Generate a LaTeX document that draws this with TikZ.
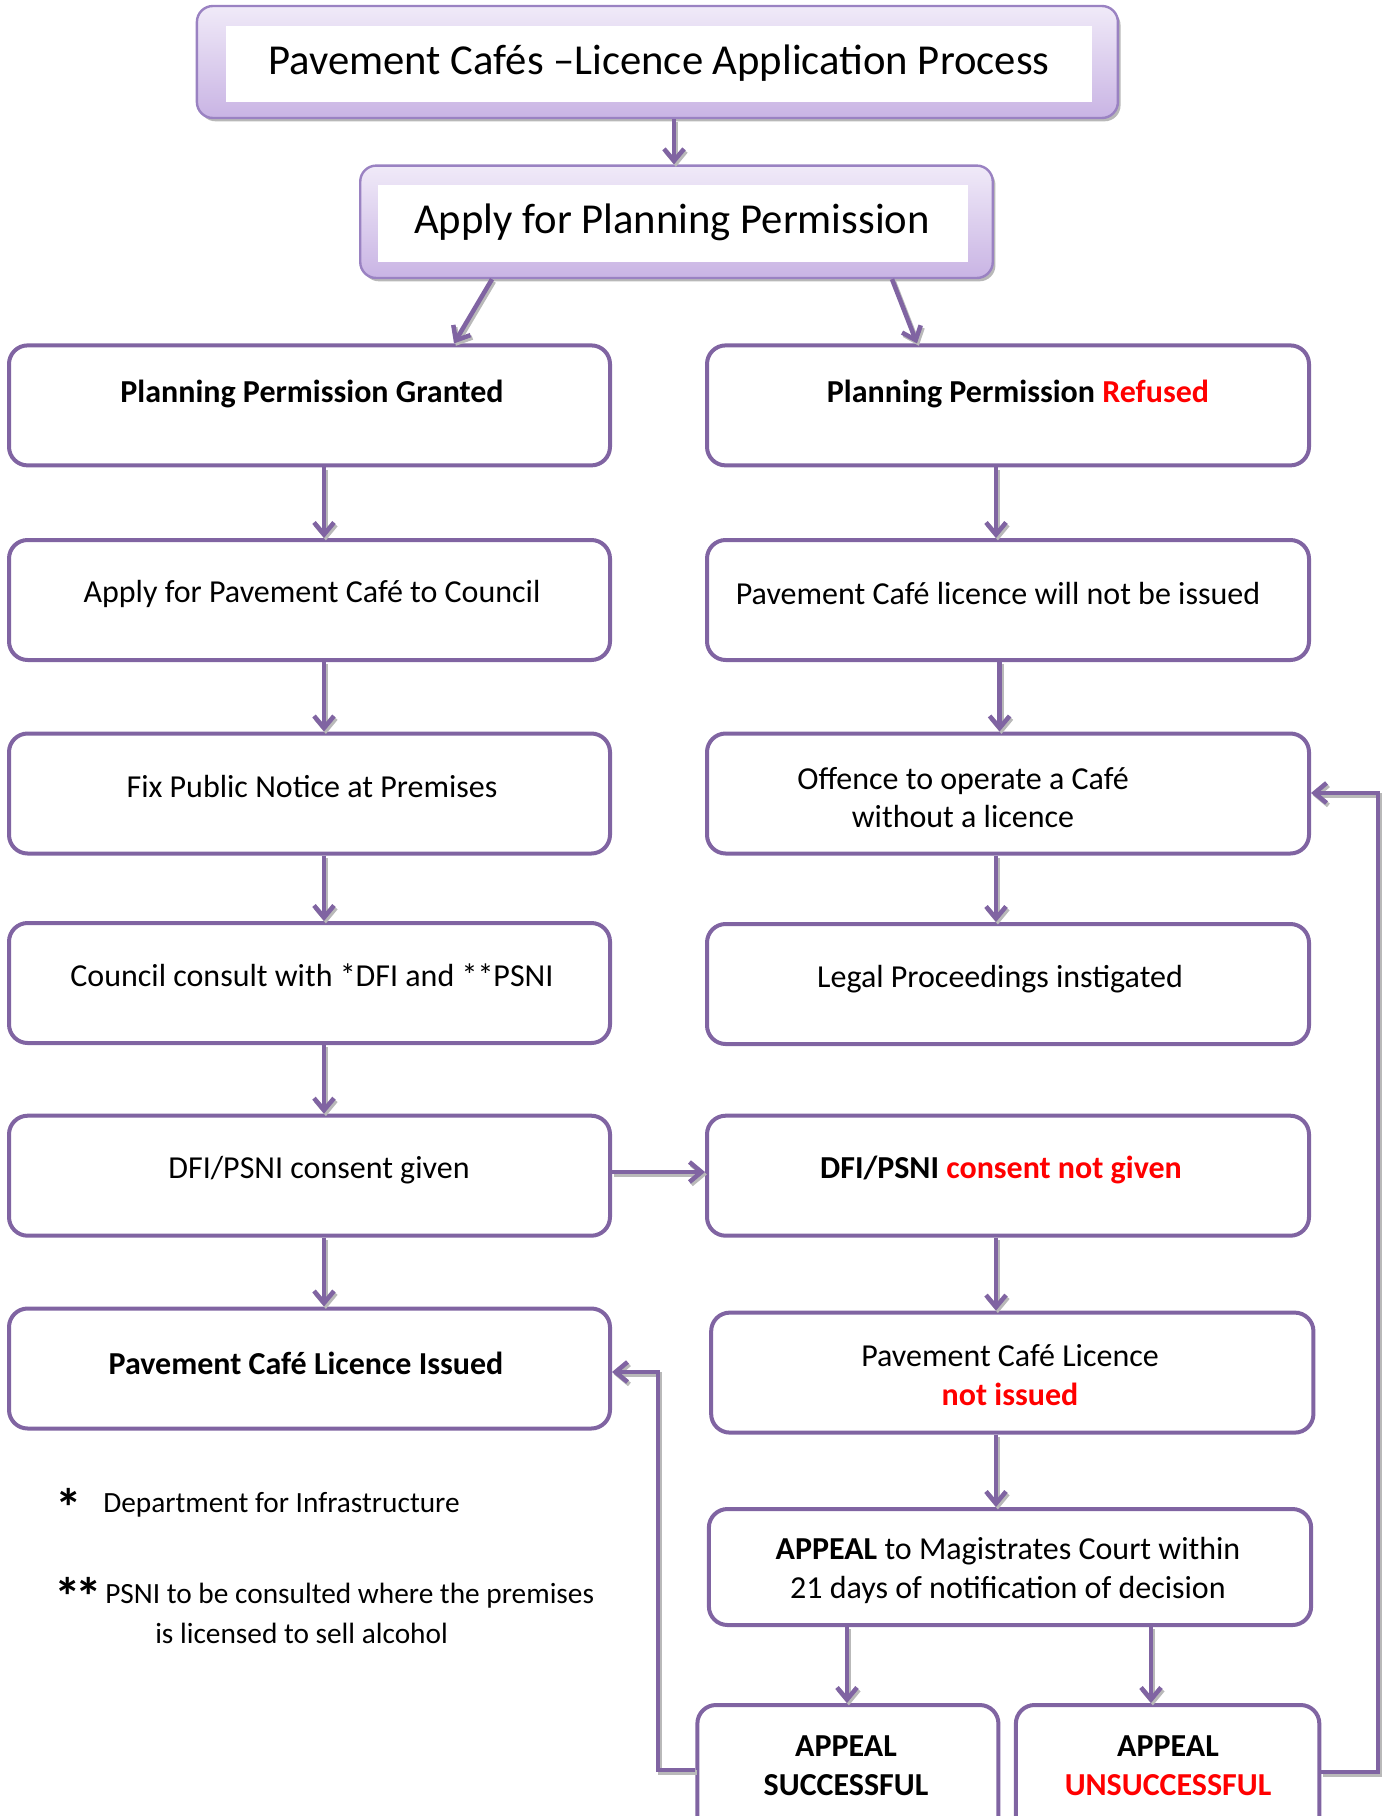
\documentclass[tikz,border=0pt]{standalone}
\usepackage{fontspec}
\setmainfont{Carlito}
\usetikzlibrary{arrows.meta,shadows}
\definecolor{pc}{HTML}{8064A2}
\definecolor{rd}{HTML}{FF0000}
\definecolor{tlight}{HTML}{F0EAF8}
\definecolor{tdark}{HTML}{C9B4E4}
\definecolor{tborder}{HTML}{9A82C2}
\newcommand\allconns[1]{%
\draw[#1] (title.south -| x0) -- (apply.north -| x0);
\draw[#1] (apply.south -| d1) -- (pg.north -| d2);
\draw[#1] (apply.south -| d3) -- (pr.north -| d4);
\draw[#1] (pg.south -| xl) -- (apc.north -| xl);
\draw[#1] (apc.south -| xl) -- (fix.north -| xl);
\draw[#1] (fix.south -| xl) -- (cons.north -| xl);
\draw[#1] (cons.south -| xl) -- (cg.north -| xl);
\draw[#1] (cg.south -| xl) -- (lic.north -| xl);
\draw[#1] (pr.south -| xr) -- (nli.north -| xr);
\draw[#1] (nli.south -| xr2) -- (off.north -| xr2);
\draw[#1] (off.south -| xr) -- (legal.north -| xr);
\draw[#1] (cg.east |- hy) -- (cng.west |- hy);
\draw[#1] (cng.south -| xr) -- (nis.north -| xr);
\draw[#1] (nis.south -| xr) -- (appeal.north -| xr);
\draw[#1] (appeal.south -| xa1) -- (succ.north -| xa1);
\draw[#1] (appeal.south -| xa2) -- (unsucc.north -| xa2);
\draw[#1] (succ.west |- fbl) -- (fbl) |- (lic.east |- fbt);
\draw[#1] (unsucc.east |- fbr) -- (fbr) |- (off.east |- fbt2);}
\begin{document}
\begin{tikzpicture}[x=0.75pt,y=-0.75pt,
 box/.style={draw=pc,line width=3pt,rounded corners=14pt,fill=white,inner sep=0pt},
 lbox/.style={box,minimum width=450.75pt,minimum height=90pt},
 rbox/.style={box,minimum width=451.5pt,minimum height=90pt},
 hbox/.style={draw=tborder,line width=1.8pt,rounded corners=12pt,top color=tlight,bottom color=tdark,inner sep=0pt,
   drop shadow={shadow xshift=2pt,shadow yshift=-2.5pt,fill=gray!70,opacity=0.8}},
 wbox/.style={fill=white,draw=none,inner sep=0pt},
 txt/.style={font=\fontsize{24}{29}\selectfont,align=center,inner sep=0pt},
 big/.style={font=\fontsize{32}{38}\selectfont,inner sep=0pt},
 note/.style={font=\fontsize{22}{28}\selectfont,inner sep=0pt,anchor=west},
 star/.style={font=\fontsize{40}{42}\selectfont\bfseries,inner sep=0pt,anchor=center},
 arrbase/.style={line width=3.4pt,-{Straight Barb[length=9pt,width=15pt]}},
 arr/.style={arrbase,draw=pc},
 arrshadow/.style={arrbase,draw=gray!55,transform canvas={xshift=1.4pt,yshift=-1.8pt}},
]
\useasboundingbox (0,0) rectangle (1383,1816);
\clip (0,0) rectangle (1383,1816);

% header boxes
\node[hbox,minimum width=690.75pt,minimum height=84pt] (title) at (657.4,62) {};
\node[wbox,minimum width=649.5pt,minimum height=57pt] (titlein) at (659,63.7) {};
\node[big] (titlet) at (659,63) {Pavement Cafés –Licence Application Process};

\node[hbox,minimum width=474.4pt,minimum height=84.3pt] (apply) at (676.5,221.8) {};
\node[wbox,minimum width=443pt,minimum height=57.4pt] (applyin) at (673,223.5) {};
\node[big] (applyt) at (672,222) {Apply for Planning Permission};

% helper coordinates
\coordinate (x0) at (674,0);
\coordinate (d1) at (492,0);
\coordinate (d2) at (454,0);
\coordinate (d3) at (892,0);
\coordinate (d4) at (917,0);
\coordinate (xl) at (324,0);
\coordinate (xr) at (996,0);
\coordinate (xr2) at (999.6,0);
\coordinate (xa1) at (847,0);
\coordinate (xa2) at (1151,0);
\coordinate (hy) at (0,1172);
\coordinate (fbl) at (658,1770);
\coordinate (fbt) at (0,1372);
\coordinate (fbr) at (1378,1772);
\coordinate (fbt2) at (0,793);

% boxes
\node[lbox] (pg) at (309.5,405.4) {};
\node[rbox] (pr) at (1008,405.4) {};
\node[lbox] (apc) at (309.5,600) {};
\node[rbox] (nli) at (1008,600) {};
\node[lbox] (fix) at (309.5,793.5) {};
\node[rbox] (off) at (1008,793.5) {};
\node[lbox] (cons) at (309.5,983) {};
\node[rbox] (legal) at (1008,984) {};
\node[lbox] (cg) at (309.5,1175.7) {};
\node[rbox] (cng) at (1008,1175.7) {};
\node[lbox] (lic) at (309.5,1368.5) {};
\node[box,minimum width=451.7pt,minimum height=90pt] (nis) at (1012.3,1372.6) {};
\node[box,minimum width=451.7pt,minimum height=87pt] (appeal) at (1010,1567) {};
\node[box,minimum width=225.8pt,minimum height=108.75pt] (succ) at (847.9,1777.5) {};
\node[box,minimum width=227.6pt,minimum height=108.75pt] (unsucc) at (1167.6,1777.5) {};

% connectors (shadow pass, then main pass)
\allconns{arrshadow}
\allconns{arr}

% texts
\node[txt] (t1) at (312,394) {\textbf{Planning Permission Granted}};
\node[txt] (t2) at (1018,394) {\textbf{Planning Permission \textcolor{rd}{Refused}}};
\node[txt] (t3) at (312,594) {Apply for Pavement Café to Council};
\node[txt] (t4) at (998,594) {Pavement Café licence will not be issued};
\node[txt] (t5) at (312,786) {Fix Public Notice at Premises};
\node[txt] (t6) at (963,797.5) {Offence to operate a Café\\without a licence};
\node[txt] (t7) at (312,975) {Council consult with *DFI and **PSNI};
\node[txt] (t8) at (1000,979) {Legal Proceedings instigated};
\node[txt] (t9) at (319,1170) {DFI/PSNI consent given};
\node[txt] (t10) at (1001,1170) {\textbf{DFI/PSNI \textcolor{rd}{consent not given}}};
\node[txt] (t11) at (306,1363) {\textbf{Pavement Café Licence Issued}};
\node[txt] (t12) at (1010,1375) {Pavement Café Licence\\\textcolor{rd}{\textbf{not issued}}};
\node[txt] (t13) at (1008,1570.5) {\textbf{APPEAL} to Magistrates Court within\\21 days of notification of decision};
\node[txt] (t14) at (846,1765.5) {\textbf{APPEAL}\\\textbf{SUCCESSFUL}};
\node[txt] (t15) at (1168,1765.5) {\textbf{APPEAL}\\\textbf{\textcolor{rd}{UNSUCCESSFUL}}};

% notes
\node[star] (n1) at (69,1507) {*};
\node[note] (n2) at (103,1505) {Department for Infrastructure};
\node[star] (n3) at (78,1596) {*\kern-0.1em*};
\node[note] (n4) at (105,1596) {PSNI to be consulted where the premises};
\node[note] (n5) at (155,1633) {is licensed to sell alcohol};
\end{tikzpicture}
\end{document}
